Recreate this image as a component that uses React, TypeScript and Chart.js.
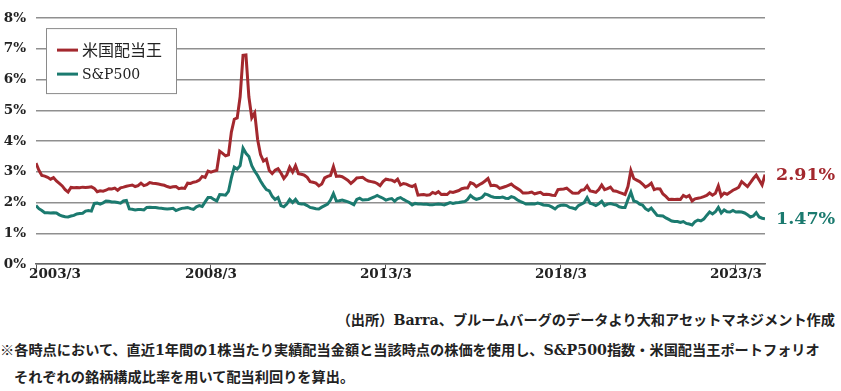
import React, { useEffect, useRef } from 'react';
import { Chart, registerables } from 'chart.js';

Chart.register(...registerables);

// x = months since 2003/3
const tickMonths = [0, 60, 120, 180, 240];
const tickLabels = ['2003/3', '2008/3', '2013/3', '2018/3', '2023/3'];
const seriesNames = ['米国配当王', 'S&P500'];
const seriesColors = ['#a3282e', '#1b7a6f'];
const yTickValues = [0, 1, 2, 3, 4, 5, 6, 7, 8];

const kingsYield = [
  3.28, 3.05, 2.88, 2.86, 2.82, 2.76, 2.81, 2.70, 2.62, 2.54, 2.42, 2.34,
  2.49, 2.48, 2.49, 2.48, 2.50, 2.49, 2.50, 2.51, 2.46, 2.35, 2.38, 2.37,
  2.40, 2.45, 2.44, 2.47, 2.40, 2.48, 2.50, 2.53, 2.55, 2.57, 2.52, 2.55,
  2.63, 2.55, 2.58, 2.65, 2.63, 2.62, 2.60, 2.58, 2.56, 2.52, 2.49, 2.51,
  2.52, 2.45, 2.47, 2.46, 2.63, 2.62, 2.66, 2.68, 2.73, 2.85, 2.82, 3.02,
  2.99, 3.02, 3.05, 3.67, 3.60, 3.52, 3.55, 4.29, 4.71, 4.75, 5.44, 6.79,
  6.80, 5.44, 4.76, 4.92, 4.05, 3.56, 3.35, 3.41, 3.04, 2.94, 3.05, 3.10,
  2.96, 2.78, 2.90, 3.15, 2.99, 3.20, 2.94, 2.92, 2.89, 2.82, 2.68, 2.66,
  2.63, 2.54, 2.60, 2.80, 2.85, 2.88, 3.17, 2.85, 2.86, 2.84, 2.78, 2.72,
  2.62, 2.70, 2.80, 2.81, 2.82, 2.75, 2.70, 2.68, 2.66, 2.62, 2.55, 2.68,
  2.76, 2.74, 2.73, 2.68, 2.76, 2.57, 2.62, 2.60, 2.55, 2.52, 2.57, 2.24,
  2.25, 2.26, 2.24, 2.25, 2.33, 2.29, 2.35, 2.26, 2.27, 2.26, 2.35, 2.33,
  2.36, 2.39, 2.45, 2.47, 2.47, 2.65, 2.61, 2.52, 2.58, 2.63, 2.70, 2.78,
  2.55, 2.56, 2.54, 2.46, 2.49, 2.52, 2.56, 2.60, 2.52, 2.46, 2.40, 2.31,
  2.31, 2.32, 2.34, 2.28, 2.31, 2.33, 2.26, 2.27, 2.26, 2.24, 2.23, 2.42,
  2.43, 2.44, 2.47, 2.39, 2.31, 2.30, 2.31, 2.40, 2.42, 2.54, 2.38, 2.36,
  2.33, 2.42, 2.57, 2.42, 2.45, 2.50, 2.38, 2.37, 2.33, 2.30, 2.26, 2.52,
  3.04, 2.78, 2.73, 2.68, 2.60, 2.50, 2.55, 2.63, 2.42, 2.45, 2.44, 2.28,
  2.20, 2.10, 2.11, 2.10, 2.11, 2.10, 2.23, 2.18, 2.23, 2.05, 2.12, 2.14,
  2.16, 2.19, 2.23, 2.31, 2.24, 2.30, 2.54, 2.21, 2.31, 2.27, 2.33, 2.40,
  2.44, 2.50, 2.68, 2.60, 2.52, 2.65, 2.78, 2.89, 2.73, 2.57, 2.91,
];

const sp500Yield = [
  1.90, 1.80, 1.74, 1.67, 1.67, 1.66, 1.67, 1.66, 1.60, 1.56, 1.54, 1.53,
  1.56, 1.58, 1.63, 1.64, 1.65, 1.72, 1.74, 1.72, 1.97, 1.98, 1.95, 1.99,
  2.05, 2.04, 2.02, 2.02, 2.00, 1.98, 2.05, 2.07, 1.79, 1.78, 1.76, 1.77,
  1.77, 1.76, 1.84, 1.85, 1.84, 1.84, 1.82, 1.81, 1.80, 1.79, 1.80, 1.81,
  1.74, 1.78, 1.81, 1.82, 1.84, 1.80, 1.78, 1.86, 1.90, 1.87, 2.02, 2.16,
  2.16, 2.10, 2.05, 2.26, 2.25, 2.24, 2.36, 2.80, 3.15, 3.09, 3.20, 3.77,
  3.60, 3.50, 3.20, 3.02, 2.88, 2.70, 2.55, 2.42, 2.38, 2.20, 2.10, 2.16,
  1.90, 1.86, 1.95, 2.10, 2.00, 2.10, 1.97, 1.95, 1.95, 1.90, 1.84, 1.82,
  1.80, 1.79, 1.85, 1.90, 1.95, 2.08, 2.29, 2.05, 2.06, 2.08, 2.05, 2.02,
  1.98, 1.93, 2.10, 2.14, 2.08, 2.09, 2.10, 2.14, 2.18, 2.23, 2.18, 2.14,
  2.08, 2.11, 2.13, 2.04, 2.13, 2.16, 2.10, 2.05, 2.00, 1.92, 1.97, 1.95,
  1.95, 1.94, 1.94, 1.93, 1.93, 1.94, 1.95, 1.94, 1.92, 1.96, 2.00, 1.97,
  1.99, 2.00, 2.02, 2.03, 2.10, 2.23, 2.15, 2.10, 2.13, 2.17, 2.28, 2.25,
  2.20, 2.17, 2.16, 2.16, 2.18, 2.14, 2.13, 2.19, 2.16, 2.09, 2.04, 2.00,
  1.95, 1.95, 1.96, 1.95, 1.98, 1.96, 1.92, 1.91, 1.90, 1.85, 1.79, 1.88,
  1.91, 1.92, 1.90, 1.84, 1.82, 1.79, 1.90, 1.95, 2.00, 2.16, 1.98, 1.95,
  1.90, 1.96, 2.04, 1.90, 1.95, 1.97, 1.94, 1.92, 1.86, 1.84, 1.84, 2.10,
  2.34, 2.05, 2.02, 1.95, 1.92, 1.80, 1.74, 1.82, 1.70, 1.58, 1.57, 1.56,
  1.50, 1.45, 1.40, 1.38, 1.38, 1.35, 1.38, 1.32, 1.30, 1.27, 1.38, 1.43,
  1.40, 1.46, 1.58, 1.69, 1.63, 1.70, 1.84, 1.66, 1.76, 1.70, 1.69, 1.74,
  1.69, 1.70, 1.69, 1.66, 1.60, 1.53, 1.56, 1.67, 1.53, 1.49, 1.47,
];

const endLabels = ['2.91%', '1.47%'];

const SERIF = "'DejaVu Serif', 'Noto Sans CJK JP', serif";

const overlayPlugin = {
  id: 'overlay',
  afterDraw(chart: any) {
    const { ctx, chartArea, scales } = chart;
    const xs = scales.x;
    const ys = scales.y;
    ctx.save();
    // x tick labels
    ctx.font = `bold 13.5px ${SERIF}`;
    ctx.fillStyle = '#222';
    ctx.textBaseline = 'middle';
    tickMonths.forEach((m, i) => {
      const px = xs.getPixelForValue(m);
      if (i === 0) {
        ctx.textAlign = 'left';
        ctx.fillText(tickLabels[i], px - 7, chartArea.bottom + 10);
      } else {
        ctx.textAlign = 'center';
        ctx.fillText(tickLabels[i], px, chartArea.bottom + 10);
      }
    });
    // end labels
    ctx.font = `bold 17.5px ${SERIF}`;
    ctx.textAlign = 'left';
    chart.data.datasets.forEach((ds: any, i: number) => {
      const last = ds.data[ds.data.length - 1];
      const py = ys.getPixelForValue(last.y);
      ctx.fillStyle = seriesColors[i];
      ctx.fillText(endLabels[i], chartArea.right + 11, py + 1);
    });
    // legend box
    const lx = chartArea.left + 10;
    const ly = chartArea.top + 10;
    ctx.fillStyle = '#ffffff';
    ctx.fillRect(lx, ly, 130, 65);
    ctx.strokeStyle = '#8a8a8a';
    ctx.lineWidth = 1;
    ctx.strokeRect(lx + 0.5, ly + 0.5, 130, 65);
    const rows = [ly + 22, ly + 46];
    seriesNames.forEach((name, i) => {
      ctx.strokeStyle = seriesColors[i];
      ctx.lineWidth = 3;
      ctx.beginPath();
      ctx.moveTo(lx + 11, rows[i]);
      ctx.lineTo(lx + 32, rows[i]);
      ctx.stroke();
      ctx.fillStyle = '#222';
      ctx.textAlign = 'left';
      ctx.textBaseline = 'middle';
      ctx.font = i === 0 ? "16px 'Noto Sans CJK JP', sans-serif" : `14px ${SERIF}`;
      ctx.fillText(name, lx + 36, rows[i] + (i === 0 ? 0 : 1));
    });
    ctx.restore();
  },
};

export default function App() {
  const ref = useRef<HTMLCanvasElement | null>(null);
  useEffect(() => {
    if (!ref.current) return;
    const chart = new Chart(ref.current, {
      type: 'line',
      data: {
        datasets: [
          {
            label: seriesNames[0],
            data: kingsYield.map((v, i) => ({ x: i, y: v })),
            borderColor: seriesColors[0],
            borderWidth: 3,
            pointRadius: 0,
            tension: 0,
          },
          {
            label: seriesNames[1],
            data: sp500Yield.map((v, i) => ({ x: i, y: v })),
            borderColor: seriesColors[1],
            borderWidth: 3,
            pointRadius: 0,
            tension: 0,
          },
        ],
      },
      options: {
        responsive: false,
        animation: false,
        devicePixelRatio: 1,
        layout: { padding: { left: 0, top: 8, right: 76, bottom: 0 } },
        plugins: { legend: { display: false }, tooltip: { enabled: false } },
        scales: {
          x: {
            type: 'linear',
            min: 0,
            max: 250,
            afterBuildTicks: (scale: any) => {
              scale.ticks = tickMonths.map((v) => ({ value: v }));
            },
            afterFit: (scale: any) => {
              scale.height = 26;
            },
            ticks: { display: false },
            grid: {
              drawOnChartArea: false,
              drawTicks: true,
              tickLength: 5,
              color: '#555',
              lineWidth: 1,
            },
            border: { display: true, color: '#666', width: 1.5 },
          },
          y: {
            min: 0,
            max: 8,
            afterBuildTicks: (scale: any) => {
              scale.ticks = yTickValues.map((v) => ({ value: v }));
            },
            afterFit: (scale: any) => {
              scale.width = 36;
            },
            ticks: {
              padding: 10,
              color: '#222',
              font: { family: SERIF, size: 13.5, weight: 'bold' },
              callback: (v: any) => `${v}%`,
            },
            grid: { drawTicks: false, color: '#8f8f8f', lineWidth: 1.5 },
            border: { display: false },
          },
        },
      },
      plugins: [overlayPlugin],
    } as any);
    return () => chart.destroy();
  }, []);

  const noteStyle: React.CSSProperties = {
    position: 'absolute',
    fontFamily: SERIF,
    fontWeight: 'bold',
    fontSize: '14.2px',
    color: '#222',
    whiteSpace: 'nowrap',
    lineHeight: '18px',
  };

  return (
    <div style={{ position: 'absolute', left: 0, top: 0, width: 841, height: 391, background: '#fff' }}>
      <canvas ref={ref} width={841} height={290} style={{ display: 'block' }} />
      <div style={{ ...noteStyle, right: 6, top: 311 }}>
        （出所）Barra、ブルームバーグのデータより大和アセットマネジメント作成
      </div>
      <div style={{ ...noteStyle, left: 0, top: 341 }}>
        ※各時点において、直近1年間の1株当たり実績配当金額と当該時点の株価を使用し、S&amp;P500指数・米国配当王ポートフォリオ
      </div>
      <div style={{ ...noteStyle, left: 14, top: 368 }}>
        それぞれの銘柄構成比率を用いて配当利回りを算出。
      </div>
    </div>
  );
}
